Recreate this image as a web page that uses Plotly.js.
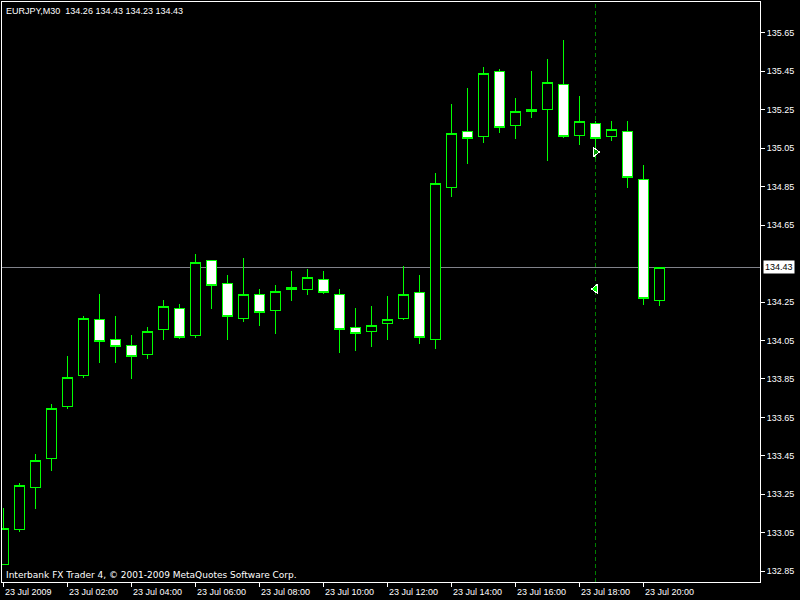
<!DOCTYPE html>
<html>
<head>
<meta charset="utf-8">
<script src="https://cdn.plot.ly/plotly-3.0.1.min.js"></script>
<style>
html,body{margin:0;padding:0;background:#000;}
#chart{width:800px;height:600px;}
#chart .trace path, #chart .layer-below path, #chart .xlines-above, #chart .ylines-above, #chart .xtick, #chart .ytick {shape-rendering: crispEdges;}
</style>
</head>
<body>
<div id="chart"></div>
<script>
// 30-minute bars, EURJPY, 23 Jul 2009 00:00 .. 20:30 (bar index 0..41)
const barIndex = [0,1,2,3,4,5,6,7,8,9,10,11,12,13,14,15,16,17,18,19,20,21,22,23,24,25,26,27,28,29,30,31,32,33,34,35,36,37,38,39,40,41];
const openP  = [132.886,133.068,133.286,133.437,133.707,133.869,134.160,134.056,134.025,133.978,134.108,134.215,134.075,134.467,134.347,134.163,134.290,134.207,134.326,134.316,134.368,134.290,134.118,134.098,134.139,134.163,134.300,134.056,134.847,135.138,135.112,135.450,135.169,135.252,135.250,135.382,135.117,135.180,135.110,135.138,134.888,134.26];
const highP  = [133.177,133.309,133.459,133.719,133.969,134.177,134.292,134.177,134.078,134.118,134.260,134.240,134.500,134.470,134.390,134.479,134.318,134.338,134.411,134.422,134.411,134.318,134.219,134.229,134.281,134.437,134.390,134.921,135.280,135.363,135.472,135.462,135.311,135.452,135.514,135.613,135.320,135.190,135.190,135.190,134.963,134.43];
const lowP   = [132.880,133.055,133.175,133.372,133.695,133.856,133.934,133.934,133.848,133.955,134.054,134.056,134.064,134.214,134.054,134.146,134.125,134.084,134.255,134.288,134.290,133.986,133.997,134.017,134.054,134.158,134.033,134.007,134.798,134.969,135.079,135.128,135.099,135.209,134.985,135.105,135.068,134.997,135.089,134.845,134.234,134.23];
const closeP = [133.073,133.297,133.427,133.697,133.858,134.165,134.046,134.020,133.968,134.098,134.228,134.066,134.457,134.335,134.174,134.290,134.196,134.306,134.316,134.378,134.300,134.108,134.087,134.129,134.160,134.290,134.064,134.867,135.128,135.100,135.440,135.159,135.242,135.242,135.393,135.111,135.190,135.100,135.148,134.899,134.269,134.43];

const timeTickIndex = [0,4,8,12,16,20,24,28,32,36,40];
const timeTickText = ["23 Jul 2009","23 Jul 02:00","23 Jul 04:00","23 Jul 06:00","23 Jul 08:00","23 Jul 10:00","23 Jul 12:00","23 Jul 14:00","23 Jul 16:00","23 Jul 18:00","23 Jul 20:00"];
const priceTicks = [132.85,133.05,133.25,133.45,133.65,133.85,134.05,134.25,134.65,134.85,135.05,135.25,135.45,135.65];
const priceTickText = ["132.85","133.05","133.25","133.45","133.65","133.85","134.05","134.25","134.65","134.85","135.05","135.25","135.45","135.65"];
const currentPrice = 134.43;
const currentPriceText = "134.43";
const periodSepIndex = 37;
const arrowIndex = [37, 37];
const arrowPrice = [135.03, 134.318];
const headerText = "EURJPY,M30  134.26 134.43 134.23 134.43";
const footerText = "Interbank FX Trader 4, © 2001-2009 MetaQuotes Software Corp.";

const FONT = "Liberation Sans, Arial, sans-serif";
const FOOTFONT = "DejaVu Sans, Verdana, sans-serif";

const candles = {
  type: 'candlestick',
  x: barIndex, open: openP, high: highP, low: lowP, close: closeP,
  increasing: {line: {color: '#00ff00', width: 1}, fillcolor: '#000000'},
  decreasing: {line: {color: '#00ff00', width: 1}, fillcolor: '#ffffff'},
  whiskerwidth: 0,
  hoverinfo: 'skip',
  showlegend: false
};

const arrows = {
  type: 'scatter', mode: 'markers',
  x: arrowIndex, y: arrowPrice,
  marker: {symbol: ['triangle-right','triangle-left'], size: 8,
           color: ['#009900','#00ff00'], line: {color: '#ffffff', width: 1}},
  hoverinfo: 'skip', showlegend: false
};

const annotations = [];
timeTickIndex.forEach((xi, k) => {
  annotations.push({xref: 'x', yref: 'paper', x: xi, y: 0, xanchor: 'left', yanchor: 'top',
    text: timeTickText[k], showarrow: false, xshift: -1, yshift: -3,
    font: {family: FONT, size: 9, color: '#ffffff'}});
});
annotations.push({xref: 'paper', yref: 'y', x: 1, y: currentPrice, xanchor: 'left', yanchor: 'middle',
  text: currentPriceText, showarrow: false, xshift: 3, bgcolor: '#ffffff', borderpad: 1,
  font: {family: FONT, size: 9, color: '#000000'}});
annotations.push({xref: 'paper', yref: 'paper', x: 0, y: 1, xanchor: 'left', yanchor: 'top',
  text: headerText, showarrow: false, xshift: 2, yshift: -2,
  font: {family: FONT, size: 9, color: '#ffffff'}});
annotations.push({xref: 'paper', yref: 'paper', x: 0, y: 0, xanchor: 'left', yanchor: 'bottom',
  text: footerText, showarrow: false, xshift: 2, yshift: 0,
  font: {family: FOOTFONT, size: 9, color: '#ffffff'}});

const layout = {
  width: 800, height: 600,
  paper_bgcolor: '#000000', plot_bgcolor: '#000000',
  margin: {l: 2, r: 40, t: 2, b: 18},
  showlegend: false,
  boxgap: 0.375,
  boxgroupgap: 0,
  xaxis: {
    type: 'linear', range: [-0.094, 47.281],
    showgrid: false, zeroline: false,
    showline: true, mirror: true, linecolor: '#ffffff', linewidth: 1,
    tickmode: 'array', tickvals: timeTickIndex, ticktext: timeTickText,
    showticklabels: false, ticks: 'outside', ticklen: 4, tickcolor: '#ffffff',
    rangeslider: {visible: false}, fixedrange: true
  },
  yaxis: {
    side: 'right', range: [132.7936, 135.8105],
    showgrid: false, zeroline: false,
    showline: true, mirror: true, linecolor: '#ffffff', linewidth: 1,
    tickmode: 'array', tickvals: priceTicks, ticktext: priceTickText,
    ticks: 'outside', ticklen: 4, tickcolor: '#ffffff',
    tickfont: {family: FONT, size: 9, color: '#ffffff'}, fixedrange: true
  },
  shapes: [
    {type: 'line', xref: 'paper', yref: 'y', x0: 0, x1: 1, y0: currentPrice, y1: currentPrice,
     line: {color: 'rgb(128,130,138)', width: 1}, layer: 'below'},
    {type: 'line', xref: 'x', yref: 'paper', x0: periodSepIndex, x1: periodSepIndex, y0: 0, y1: 1,
     line: {color: '#008000', width: 1, dash: '4px,3px'}, layer: 'below'}
  ],
  annotations: annotations
};

Plotly.newPlot('chart', [candles, arrows], layout, {staticPlot: true, displayModeBar: false});
</script>
</body>
</html>
